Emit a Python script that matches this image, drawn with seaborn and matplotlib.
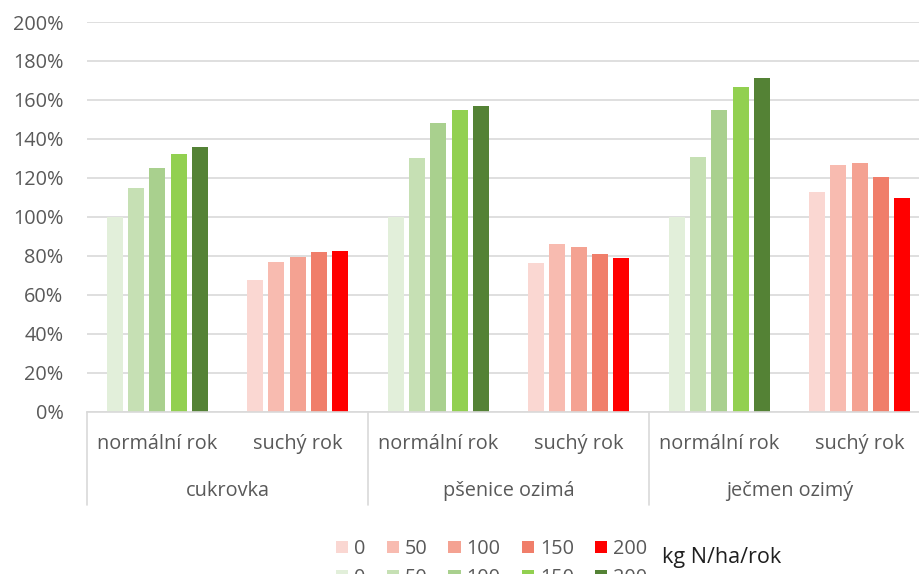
import matplotlib
matplotlib.use("Agg")
import matplotlib.pyplot as plt
import matplotlib.transforms as mtransforms
from matplotlib.patches import Patch
import seaborn as sns
import pandas as pd

# ---- data ----
crops = ["cukrovka", "pšenice ozimá", "ječmen ozimý"]
years = ["normální rok", "suchý rok"]
doses = ["0", "50", "100", "150", "200"]

cukrovka_normal = [100, 115, 125, 132.5, 136]
cukrovka_dry = [67.5, 77, 79.5, 82, 82.5]
psenice_normal = [100, 130, 148, 155, 157]
psenice_dry = [76.5, 86, 84.5, 81, 79]
jecmen_normal = [100, 130.5, 155, 166.5, 171.5]
jecmen_dry = [113, 126.5, 127.5, 120.5, 109.5]

green_colors = ["#E2EFDA", "#C6E0B4", "#A9D08E", "#92D050", "#548235"]
red_colors = ["#FAD7D2", "#F8BBB0", "#F4A292", "#F07E6A", "#FF0000"]

unit_label = "kg N/ha/rok"
yticks = list(range(0, 201, 20))

# ---- build long tables ----
keys = [f"{c}|{y}" for c in crops for y in years]
normal_series = {crops[0]: cukrovka_normal, crops[1]: psenice_normal, crops[2]: jecmen_normal}
dry_series = {crops[0]: cukrovka_dry, crops[1]: psenice_dry, crops[2]: jecmen_dry}

rows_n, rows_d = [], []
for c in crops:
    for d, v in zip(doses, normal_series[c]):
        rows_n.append({"key": f"{c}|{years[0]}", "dose": d, "value": v})
    for d, v in zip(doses, dry_series[c]):
        rows_d.append({"key": f"{c}|{years[1]}", "dose": d, "value": v})
df_n = pd.DataFrame(rows_n)
df_d = pd.DataFrame(rows_d)

sns.set_style("white")
plt.rcParams["font.family"] = ["Open Sans", "DejaVu Sans"]

W, H = 920, 574
fig = plt.figure(figsize=(W / 100, H / 100), dpi=100)
ax_left, ax_right = 87, 920
ax_top, ax_bot = 22, 411.7
ax = fig.add_axes([ax_left / W, 1 - ax_bot / H, (ax_right - ax_left) / W, (ax_bot - ax_top) / H])

common = dict(x="key", y="value", hue="dose", order=keys, hue_order=doses,
              width=0.76, gap=0.25, linewidth=0, legend=False, ax=ax, errorbar=None,
              saturation=1)
sns.barplot(data=df_n, palette=green_colors, **common)
sns.barplot(data=df_d, palette=red_colors, **common)

grid_c = "#D9D9D9"
text_c = "#595959"
fs = 14.3

ax.set_ylim(0, 200)
ax.set_xlim(-0.5, -0.5 + (ax_right - ax_left) / 140.5)
ax.set_yticks(yticks)
ax.set_yticklabels([f"{t}%" for t in yticks])
ax.tick_params(axis="y", length=0, pad=17, labelsize=fs, labelcolor=text_c)
ax.set_xticks([])
ax.set_xlabel("")
ax.set_ylabel("")
ax.yaxis.grid(True, color=grid_c, linewidth=1.2)
ax.set_axisbelow(True)
for s in ["top", "right", "left"]:
    ax.spines[s].set_visible(False)
ax.spines["bottom"].set_color(grid_c)
ax.spines["bottom"].set_linewidth(1.2)

# multi-level category axis
trans = mtransforms.blended_transform_factory(ax.transData, ax.transAxes)
for i, k in enumerate(keys):
    ax.text(i, -0.084, k.split("|")[1], transform=trans, ha="center", va="center",
            fontsize=fs, color=text_c)
for j, c in enumerate(crops):
    ax.text(2 * j + 0.5, -0.203, c, transform=trans, ha="center", va="center",
            fontsize=fs, color=text_c)
for xb in [-0.5, 1.5, 3.5, 5.5]:
    ax.plot([xb, xb], [0, -0.24], transform=trans, color=grid_c, linewidth=1.2, clip_on=False)

# legend: red row, green row
handles, labels = [], []
for d, rc, gc in zip(doses, red_colors, green_colors):
    handles += [Patch(facecolor=rc, edgecolor="none"), Patch(facecolor=gc, edgecolor="none")]
    labels += [d, d]
fig.legend(handles, labels, ncol=5, loc="upper left",
           bbox_to_anchor=(336 / W, 1 - 539 / H), frameon=False,
           fontsize=fs, labelcolor=text_c, handlelength=0.62, handleheight=0.62,
           handletextpad=0.3, columnspacing=1.05, borderpad=0, borderaxespad=0,
           labelspacing=0.45)
fig.text(662 / W, 1 - 563 / H, unit_label, fontsize=15.5, color="#1F1F1F",
         ha="left", va="baseline")

fig.savefig("out.png", dpi=100)
